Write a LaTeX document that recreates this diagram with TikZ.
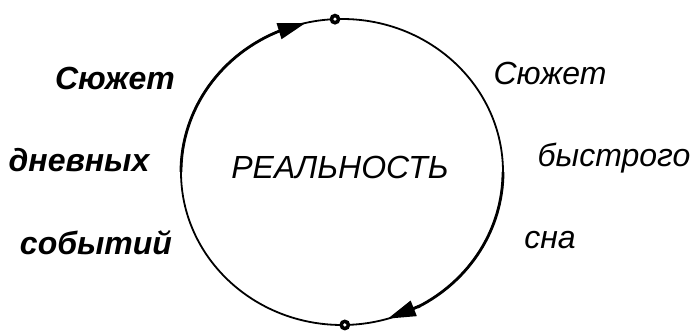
\documentclass[tikz,border=0pt]{standalone}
\usepackage{fontspec}
\setmainfont{Liberation Sans}
\usetikzlibrary{arrows.meta}
\tikzset{
  lbl/.style={font=\fontsize{32}{34}\selectfont\itshape, inner sep=0pt, anchor=center},
  lblb/.style={font=\fontsize{32}{34}\selectfont\bfseries\itshape, inner sep=0pt, anchor=center},
  ring/.style={line width=1.8pt},
  thickarc/.style={line width=2.8pt},
  tipline/.style={line width=2.8pt, -{Triangle[length=28pt,width=16pt]}},
  dotout/.style={fill=black},
  dotin/.style={fill=white}
}
\begin{document}
\begin{tikzpicture}[x=1pt,y=1pt]
\useasboundingbox (0,0) rectangle (692,331);
\coordinate (c) at (342,159);
\draw[ring] (c) ellipse [x radius=161pt, y radius=153pt];
% upper-left arrow
\draw[thickarc] (c) ++(180:161pt and 153pt) arc[start angle=180, end angle=112, x radius=161pt, y radius=153pt];
\path (c) ++(113:161pt and 153pt) coordinate (ua);
\path (c) ++(103:161pt and 153pt) coordinate (ub);
\draw[tipline] (ua) -- (ub);
% lower-right arrow
\draw[thickarc] (c) ++(0:161pt and 153pt) arc[start angle=0, end angle=-62, x radius=161pt, y radius=153pt];
\path (c) ++(-61:161pt and 153pt) coordinate (la);
\path (c) ++(-73.5:161pt and 153pt) coordinate (lb);
\draw[tipline] (la) -- (lb);
% dots
\path (c) ++(92.5:161pt and 153pt) coordinate (topdot);
\path (c) ++(-89:161pt and 153pt) coordinate (botdot);
\fill[dotout] (topdot) circle (5.5pt);
\fill[dotin] (topdot) circle (1.8pt);
\fill[dotout] (botdot) circle (5.5pt);
\fill[dotin] (botdot) circle (1.8pt);
% texts
\node[lbl] (real) at (340,164) {РЕАЛЬНОСТЬ};
\node[lblb] (l1) at (115,253) {Сюжет};
\node[lblb] (l2) at (79,171) {дневных};
\node[lblb] (l3) at (96,88) {событий};
\node[lbl] (r1) at (550,258) {Сюжет};
\node[lbl] (r2) at (614,173) {быстрого};
\node[lbl] (r3) at (550,91) {сна};
\end{tikzpicture}
\end{document}
